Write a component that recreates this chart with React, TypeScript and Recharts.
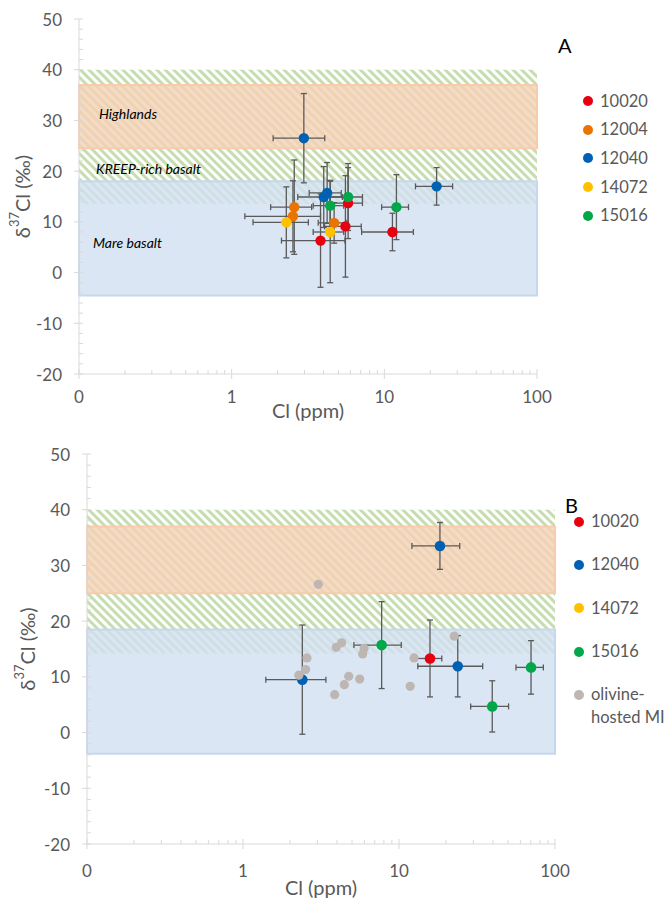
import React from 'react';
import { ScatterChart, Scatter, XAxis, YAxis, ErrorBar, ReferenceArea, Legend } from 'recharts';

const FONT = 'Lato, "Noto Sans", sans-serif';
const AXIS_COLOR = '#D9D9D9';
const TICK_TEXT = '#595959';
const ERR_COLOR = '#5A5A5A';

// axis ticks (log x axis starts at 0.1, which the original labels "0")
const X_MAJOR = [0.1, 1, 10, 100];
const X_MAJOR_LABELS = ['0', '1', '10', '100'];
const X_MINOR = [0.2, 0.3, 0.4, 0.5, 0.6, 0.7, 0.8, 0.9, 2, 3, 4, 5, 6, 7, 8, 9, 20, 30, 40, 50, 60, 70, 80, 90];
const Y_MAJOR = [-20, -10, 0, 10, 20, 30, 40, 50];
const Y_MINOR = [-18, -16, -14, -12, -8, -6, -4, -2, 2, 4, 6, 8, 12, 14, 16, 18, 22, 24, 26, 28, 32, 34, 36, 38, 42, 44, 46, 48];

const SAMPLE_COLORS: Record<string, string> = {
  '10020': '#E8000F',
  '12004': '#EA7400',
  '12040': '#0060B2',
  '14072': '#FFC000',
  '15016': '#00A84A',
  olivine: '#BDB6B2',
};

// x = Cl (ppm), y = d37Cl (permil), ex / ey = error bars
type Pt = { x: number; y: number; ex?: number; ey?: number };

// panel A
const A_10020: Pt[] = [
  { x: 3.82, y: 6.3, ex: 1.7, ey: 9.2 },
  { x: 5.56, y: 9.1, ex: 1.5, ey: 10 },
  { x: 5.79, y: 13.7, ex: 1.4, ey: 7 },
  { x: 11.3, y: 8.0, ex: 4.2, ey: 3.7 },
];
const A_12004: Pt[] = [
  { x: 2.57, y: 12.9, ex: 0.77, ey: 9.3 },
  { x: 2.52, y: 11.1, ex: 1.3, ey: 7 },
  { x: 4.69, y: 9.8, ex: 1.0, ey: 4 },
];
const A_12040: Pt[] = [
  { x: 2.97, y: 26.5, ex: 1.1, ey: 8.8 },
  { x: 4.01, y: 14.9, ex: 1.3, ey: 6 },
  { x: 4.22, y: 15.7, ex: 1.0, ey: 6 },
  { x: 22.0, y: 17.0, ex: 6, ey: 3.7 },
];
const A_14072: Pt[] = [
  { x: 2.28, y: 9.9, ex: 0.9, ey: 7 },
  { x: 4.42, y: 8.0, ex: 1.0, ey: 10 },
];
const A_15016: Pt[] = [
  { x: 4.42, y: 13.2, ex: 1.0, ey: 5 },
  { x: 5.79, y: 14.9, ex: 1.4, ey: 6.6 },
  { x: 12.0, y: 12.9, ex: 2.4, ey: 6.4 },
];

// panel B
const B_10020: Pt[] = [{ x: 15.8, y: 13.3, ex: 3.0, ey: 6.9 }];
const B_12040: Pt[] = [
  { x: 2.4, y: 9.5, ex: 1.0, ey: 9.8 },
  { x: 23.8, y: 11.9, ex: 10.6, ey: 5.5 },
  { x: 18.3, y: 33.5, ex: 6.2, ey: 4.2 },
];
const B_14072: Pt[] = [];
const B_15016: Pt[] = [
  { x: 7.74, y: 15.7, ex: 2.6, ey: 7.8 },
  { x: 39.6, y: 4.7, ex: 10.8, ey: 4.6 },
  { x: 70.2, y: 11.7, ex: 14, ey: 4.8 },
];
const B_OLIVINE_MI: Pt[] = [
  { x: 3.04, y: 26.6 }, { x: 4.29, y: 16.1 }, { x: 3.96, y: 15.3 }, { x: 5.97, y: 15.1 },
  { x: 5.85, y: 14.1 }, { x: 2.57, y: 13.4 }, { x: 2.52, y: 11.3 }, { x: 2.28, y: 10.3 },
  { x: 4.76, y: 10.1 }, { x: 5.6, y: 9.6 }, { x: 4.46, y: 8.6 }, { x: 3.87, y: 6.8 },
  { x: 12.5, y: 13.4 }, { x: 11.8, y: 8.3 }, { x: 22.6, y: 17.3 },
];

// reservoir fields, [low, high] d37Cl
const A_HIGHLANDS = [24.5, 37];
const A_KREEP = [13.5, 40];
const A_MARE = [-4.5, 18];
const B_HIGHLANDS = [25, 37];
const B_KREEP = [14.2, 40];
const B_MARE = [-3.8, 18.5];

const xTick = (labelDy: number) => (props: any) => {
  const { x, y, payload } = props;
  const i = X_MAJOR.indexOf(payload.value);
  const major = i >= 0;
  return (
    <g>
      <line x1={x} x2={x} y1={major ? y - 5 : y - 4} y2={major ? y + 5 : y} stroke={AXIS_COLOR} />
      {major && (
        <text x={x} y={y + labelDy} textAnchor="middle" dominantBaseline="central" fill={TICK_TEXT} fontSize={17} fontFamily={FONT}>
          {X_MAJOR_LABELS[i]}
        </text>
      )}
    </g>
  );
};

const yTick = (props: any) => {
  const { x, y, payload } = props;
  const major = Y_MAJOR.includes(payload.value);
  return (
    <g>
      <line x1={major ? x - 5 : x} x2={x + 4} y1={y} y2={y} stroke={AXIS_COLOR} />
      {major && (
        <text x={x - 17} y={y} textAnchor="end" dominantBaseline="central" fill={TICK_TEXT} fontSize={17} fontFamily={FONT}>
          {payload.value}
        </text>
      )}
    </g>
  );
};

const xTitle = (dy: number) => (props: any) => {
  const { viewBox } = props;
  return (
    <text x={viewBox.x + viewBox.width / 2} y={viewBox.y + dy} textAnchor="middle" dominantBaseline="central" fill={TICK_TEXT} fontSize={20} fontFamily={FONT}>
      Cl (ppm)
    </text>
  );
};

const yTitle = (cx: number) => (props: any) => {
  const { viewBox } = props;
  const cy = viewBox.y + viewBox.height / 2;
  return (
    <text x={cx} y={cy} transform={`rotate(-90 ${cx} ${cy})`} textAnchor="middle" dominantBaseline="central" fill={TICK_TEXT} fontSize={20} fontFamily={FONT}>
      δ<tspan fontSize={13} dy={-8}>37</tspan>
      <tspan dy={8}>Cl (‰)</tspan>
    </text>
  );
};

const bandLabel = (text: string, dx: number, dy: number) => (props: any) => {
  const { viewBox } = props;
  return (
    <text x={viewBox.x + dx} y={viewBox.y + viewBox.height / 2 + dy} dominantBaseline="central" fill="#000" fontSize={14} fontStyle="italic" fontFamily={FONT}>
      {text}
    </text>
  );
};

const dot = (r: number) => (props: any) => <circle cx={props.cx} cy={props.cy} r={r} fill={props.fill} />;

const Hatch = ({ id }: { id: string }) => (
  <defs>
    <pattern id={id} width={6} height={6} patternUnits="userSpaceOnUse" patternTransform="rotate(-45)">
      <rect x={0} y={0} width={6} height={6} fill="#fff" />
      <rect x={0} y={0} width={3} height={6} fill="#C5DDAF" />
    </pattern>
  </defs>
);

type LegendItem = { key: string; label: string };

const legendContent = (items: LegendItem[], rowH: number) => () => (
  <div style={{ fontFamily: FONT, fontSize: 16.5, color: TICK_TEXT }}>
    {items.map((it) => (
      <div key={it.key} style={{ display: 'flex', alignItems: 'flex-start', height: rowH }}>
        <span
          style={{
            width: 10,
            height: 10,
            borderRadius: '50%',
            background: SAMPLE_COLORS[it.key],
            marginTop: rowH / 2 - 5,
            marginRight: 7,
            flex: 'none',
          }}
        />
        <span style={{ whiteSpace: 'pre-line', lineHeight: '23px', marginTop: rowH / 2 - 11.5 }}>{it.label}</span>
      </div>
    ))}
  </div>
);

const A_LEGEND: LegendItem[] = [
  { key: '10020', label: '10020' },
  { key: '12004', label: '12004' },
  { key: '12040', label: '12040' },
  { key: '14072', label: '14072' },
  { key: '15016', label: '15016' },
];
const B_LEGEND: LegendItem[] = [
  { key: '10020', label: '10020' },
  { key: '12040', label: '12040' },
  { key: '14072', label: '14072' },
  { key: '15016', label: '15016' },
  { key: 'olivine', label: 'olivine-\nhosted MI' },
];

const series = (name: string, key: string, data: Pt[], r: number, withErr = true) => (
  <Scatter key={name} name={name} data={data} fill={SAMPLE_COLORS[key]} shape={dot(r)} isAnimationActive={false}>
    {withErr && <ErrorBar dataKey="ex" direction="x" width={3} stroke={ERR_COLOR} strokeWidth={1.3} />}
    {withErr && <ErrorBar dataKey="ey" direction="y" width={3} stroke={ERR_COLOR} strokeWidth={1.3} />}
  </Scatter>
);

function PanelA() {
  return (
    <div style={{ position: 'absolute', left: 0, top: 0, width: 670, height: 432 }}>
      <ScatterChart width={670} height={432} margin={{ top: 19, right: 133, bottom: 0, left: 0 }}>
        <Hatch id="hatchA" />
        <XAxis
          type="number"
          dataKey="x"
          scale="log"
          domain={[0.1, 100]}
          ticks={[...X_MAJOR, ...X_MINOR]}
          interval={0}
          tick={xTick(22)}
          tickLine={false}
          tickSize={0}
          tickMargin={0}
          axisLine={{ stroke: AXIS_COLOR }}
          height={58}
          label={xTitle(36)}
        />
        <YAxis
          type="number"
          dataKey="y"
          domain={[-20, 50]}
          ticks={[...Y_MAJOR, ...Y_MINOR]}
          interval={0}
          tick={yTick}
          tickLine={false}
          tickSize={0}
          tickMargin={0}
          axisLine={{ stroke: AXIS_COLOR }}
          width={79}
          label={yTitle(22)}
        />
        <ReferenceArea y1={A_KREEP[0]} y2={A_KREEP[1]} fill="url(#hatchA)" fillOpacity={1} stroke="none" />
        <ReferenceArea y1={A_HIGHLANDS[0]} y2={A_HIGHLANDS[1]} fill="#F5D1B5" fillOpacity={0.8} stroke="#F8CBAD" strokeWidth={2} label={bandLabel('Highlands', 20, -3)} />
        <ReferenceArea y1={A_MARE[0]} y2={A_MARE[1]} fill="#D1E0F0" fillOpacity={0.8} stroke="#C5D8EE" strokeWidth={2} label={bandLabel('Mare basalt', 14, 4)} />
        <ReferenceArea y1={A_MARE[1]} y2={A_HIGHLANDS[0]} fill="none" stroke="none" label={bandLabel('KREEP-rich basalt', 17, 4)} />
        {series('10020', '10020', A_10020, 5.2)}
        {series('12004', '12004', A_12004, 5.2)}
        {series('12040', '12040', A_12040, 5.2)}
        {series('14072', '14072', A_14072, 5.2)}
        {series('15016', '15016', A_15016, 5.2)}
        <Legend
          layout="horizontal"
          align="center"
          verticalAlign="middle"
          wrapperStyle={{ left: 583, top: 87, width: 87 }}
          content={legendContent(A_LEGEND, 28.6)}
        />
      </ScatterChart>
      <div style={{ position: 'absolute', left: 558, top: 33, fontFamily: FONT, fontSize: 20, lineHeight: '24px', color: '#000' }}>A</div>
    </div>
  );
}

function PanelB() {
  return (
    <div style={{ position: 'absolute', left: 0, top: 440, width: 670, height: 458 }}>
      <ScatterChart width={670} height={458} margin={{ top: 14, right: 115, bottom: 0, left: 0 }}>
        <Hatch id="hatchB" />
        <XAxis
          type="number"
          dataKey="x"
          scale="log"
          domain={[0.1, 100]}
          ticks={[...X_MAJOR, ...X_MINOR]}
          interval={0}
          tick={xTick(26)}
          tickLine={false}
          tickSize={0}
          tickMargin={0}
          axisLine={{ stroke: AXIS_COLOR }}
          height={54}
          label={xTitle(43)}
        />
        <YAxis
          type="number"
          dataKey="y"
          domain={[-20, 50]}
          ticks={[...Y_MAJOR, ...Y_MINOR]}
          interval={0}
          tick={yTick}
          tickLine={false}
          tickSize={0}
          tickMargin={0}
          axisLine={{ stroke: AXIS_COLOR }}
          width={87}
          label={yTitle(27)}
        />
        <ReferenceArea y1={B_KREEP[0]} y2={B_KREEP[1]} fill="url(#hatchB)" fillOpacity={1} stroke="none" />
        <ReferenceArea y1={B_HIGHLANDS[0]} y2={B_HIGHLANDS[1]} fill="#F5D1B5" fillOpacity={0.8} stroke="#F8CBAD" strokeWidth={2} />
        <ReferenceArea y1={B_MARE[0]} y2={B_MARE[1]} fill="#D1E0F0" fillOpacity={0.8} stroke="#C5D8EE" strokeWidth={2} />
        {series('10020', '10020', B_10020, 5.3)}
        {series('12040', '12040', B_12040, 5.3)}
        {series('14072', '14072', B_14072, 5.3)}
        {series('15016', '15016', B_15016, 5.3)}
        {series('olivine-hosted MI', 'olivine', B_OLIVINE_MI, 4.6, false)}
        <Legend
          layout="horizontal"
          align="center"
          verticalAlign="middle"
          wrapperStyle={{ left: 574, top: 60, width: 96 }}
          content={legendContent(B_LEGEND, 43.3)}
        />
      </ScatterChart>
      <div style={{ position: 'absolute', left: 565, top: 53, fontFamily: FONT, fontSize: 20, lineHeight: '24px', color: '#000' }}>B</div>
    </div>
  );
}

export default function App() {
  return (
    <div style={{ position: 'absolute', left: 0, top: 0, width: 670, height: 898, background: '#fff' }}>
      <PanelA />
      <PanelB />
    </div>
  );
}
